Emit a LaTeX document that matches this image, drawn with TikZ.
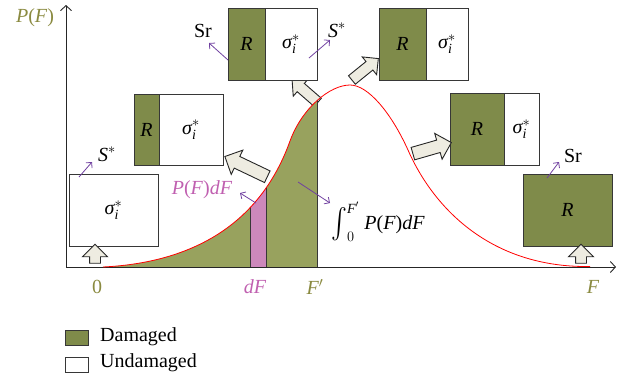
\documentclass[tikz,border=0pt]{standalone}
\usepackage{amsmath}
\usepackage{fontspec}
\setmainfont{Liberation Serif}
\usepackage{graphicx}
\usetikzlibrary{arrows.meta,shapes.arrows}
\definecolor{boxgreen}{RGB}{127,139,74}
\definecolor{areagreen}{RGB}{152,162,94}
\definecolor{pinkfill}{RGB}{204,136,187}
\definecolor{pinktext}{RGB}{192,96,176}
\definecolor{purp}{RGB}{112,64,160}
\definecolor{olivetext}{RGB}{138,138,64}
\definecolor{arrowfill}{RGB}{238,236,225}
\definecolor{edge}{RGB}{55,55,55}
\newcommand{\sigi}{$\textit{σ}^{*}_{\textit{i}}$}
\begin{document}
\begin{tikzpicture}[x=1pt,y=-1pt,
  font=\fontsize{20}{23}\selectfont,
  dmg/.style={draw=edge, line width=0.9pt, fill=boxgreen, inner sep=0pt},
  und/.style={draw=edge, line width=0.9pt, fill=white, inner sep=0pt},
  hollow/.style={single arrow, draw=black!85, fill=arrowfill, line width=0.9pt,
     inner xsep=0pt, inner ysep=6pt, single arrow head extend=7pt, minimum height=#1},
  hollowsm/.style={hollow=#1, inner ysep=5pt, single arrow head extend=6pt},
  axis/.style={draw=black!85, line width=0.9pt},
  purparrow/.style={draw=purp, line width=0.8pt, -{Straight Barb[length=4pt,width=8pt]}},
  curve/.style={insert path={(103,267) .. controls (185,263) and (258,230) .. (290,141)
     .. controls (302,108) and (330,85) .. (350,85)
     .. controls (368,85) and (391,112.5) .. (408,150)
     .. controls (433,207) and (490,268) .. (590,266.5)}},
  lbl/.style={inner sep=1pt}
]
\useasboundingbox (0,0) rectangle (622,381);

% axes
\coordinate (O) at (66,267);
\coordinate (ytop) at (66,5);
\coordinate (xend) at (616,267);

% hollow arrow partly behind area
\node[hollowsm=34pt, rotate=139] (arrB) at (307,93) {};

% area under curve up to F'
\begin{scope}
  \clip (103,0) rectangle (317,267);
  \fill[areagreen] [curve] -- (590,267) -- cycle;
\end{scope}
\begin{scope}
  \clip (250,0) rectangle (266,267);
  \fill[pinkfill] [curve] -- (590,267) -- cycle;
\end{scope}
\begin{scope}
  \clip [curve] -- (590,267) -- cycle;
  \draw[edge, line width=0.9pt] (250,0) -- (250,267);
  \draw[edge, line width=0.9pt] (266,0) -- (266,267);
  \draw[edge, line width=0.9pt] (317,0) -- (317,267);
\end{scope}

\draw[axis, -{Straight Barb[length=5pt,width=11pt]}] (O) -- (ytop);
\draw[axis, -{Straight Barb[length=5pt,width=11pt]}] (O) -- (xend);
\draw[red, line width=0.8pt] [curve];

% axis labels
\node[lbl, text=olivetext] (PF) at (35,18) {\textit{P}(\textit{F})};
\node[lbl, text=olivetext] (zero) at (97,287) {0};
\node[lbl, text=pinktext] (dF) at (255,287) {\textit{dF}};
\node[lbl, text=olivetext] (Fp) at (315,287) {\textit{F}$'$};
\node[lbl, text=olivetext] (F) at (593,287) {\textit{F}};

% boxes
\node[und, minimum width=89pt, minimum height=72pt] (b1) at (113.5,210) {\sigi};
\node[dmg, minimum width=25pt, minimum height=71pt] (b2r) at (146.5,129.5) {\textit{R}};
\node[und, minimum width=64pt, minimum height=71pt] (b2s) at (191,129.5) {\sigi};
\node[dmg, minimum width=37pt, minimum height=72pt] (b3r) at (246.5,44) {\textit{R}};
\node[und, minimum width=52pt, minimum height=72pt] (b3s) at (291,44) {\sigi};
\node[dmg, minimum width=47pt, minimum height=72pt] (b4r) at (402.5,44) {\textit{R}};
\node[und, minimum width=42pt, minimum height=72pt] (b4s) at (447,44) {\sigi};
\node[dmg, minimum width=54pt, minimum height=72pt] (b5r) at (477,129) {\textit{R}};
\node[und, minimum width=35pt, minimum height=72pt] (b5s) at (521.5,129) {\sigi};
\node[dmg, minimum width=89pt, minimum height=72pt] (b6) at (567.5,210) {\textit{R}};

% hollow arrows
\node[hollow=47pt, rotate=154.5] (arrA) at (249,168) {};
\node[hollowsm=34pt, rotate=39] (arrC) at (363,71) {};
\node[hollow=40pt, rotate=16] (arrD) at (429,149) {};
\node[hollowsm=19pt, inner ysep=5pt, single arrow head extend=7pt, rotate=90] (up1) at (95,256.5) {};
\node[hollowsm=19pt, inner ysep=5pt, single arrow head extend=7pt, rotate=90] (up2) at (581,256.5) {};

% small purple arrows and labels
\coordinate (s1a) at (79,177); \coordinate (s1b) at (92,162);
\draw[purparrow] (s1a) -- (s1b);
\node[lbl] (S1) at (107,154) {\textit{S}$^{*}$};

\coordinate (r3a) at (228,60); \coordinate (r3b) at (209,43);
\draw[purparrow] (r3a) -- (r3b);
\node[lbl] (Sr1) at (203,31) {Sr};

\coordinate (s3a) at (309,58); \coordinate (s3b) at (330,40);
\draw[purparrow] (s3a) -- (s3b);
\node[lbl] (S3) at (337,30) {\textit{S}$^{*}$};

\coordinate (r6a) at (547,178); \coordinate (r6b) at (559,162);
\draw[purparrow] (r6a) -- (r6b);
\node[lbl] (Sr2) at (573,156) {Sr};

\coordinate (pa) at (256,203); \coordinate (pb) at (240,193);
\draw[purparrow] (pa) -- (pb);
\node[lbl, text=pinktext] (PdF) at (202,190) {\textit{P}(\textit{F})\textit{dF}};

\coordinate (ia) at (298,182); \coordinate (ib) at (330,203);
\draw[purparrow] (ia) -- (ib);
\node[lbl] (integ) at (378,222) {$\mathop{\vcenter{\hbox{\scalebox{1.15}[1.45]{$\int$}}}}\nolimits_{0}^{\textit{F}'}$\ \textit{P}(\textit{F})\textit{dF}};

% legend
\node[dmg, minimum width=23pt, minimum height=15pt] (legD) at (76.5,337.5) {};
\node[und, minimum width=23pt, minimum height=15pt] (legU) at (76.5,364.5) {};
\node[lbl, anchor=west] (legDt) at (99,337) {Damaged};
\node[lbl, anchor=west] (legUt) at (99,363) {Undamaged};
\end{tikzpicture}
\end{document}
